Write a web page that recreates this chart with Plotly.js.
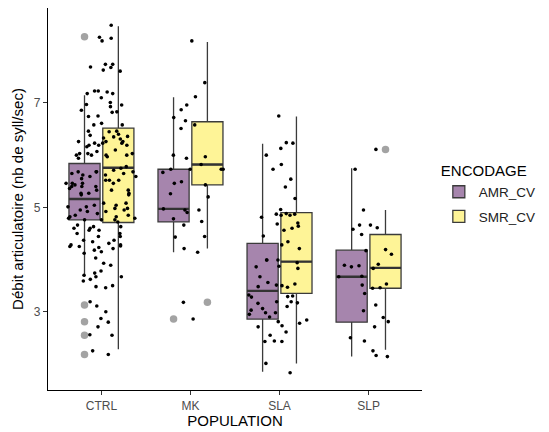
<!DOCTYPE html>
<html>
<head>
<meta charset="utf-8">
<script src="https://cdn.plot.ly/plotly-3.0.1.min.js"></script>
<style>html,body{margin:0;padding:0;background:#fff;}#chart{width:549px;height:432px;}</style>
</head>
<body>
<div id="chart"></div>
<script>
const categories = ['CTRL', 'MK', 'SLA', 'SLP'];

// Box statistics (per category)
const amrQ1 = [4.76, 4.72, 2.86, 2.80];
const amrMedian = [5.16, 4.97, 3.40, 3.67];
const amrQ3 = [5.84, 5.73, 4.31, 4.18];
const amrLower = [3.67, 4.14, 1.85, 2.14];
const amrUpper = [7.15, 7.11, 6.22, 5.75];

const smrQ1 = [4.71, 5.43, 3.35, 3.45];
const smrMedian = [5.76, 5.82, 3.96, 3.84];
const smrQ3 = [6.52, 6.64, 4.90, 4.48];
const smrLower = [2.28, 4.21, 2.01, 2.27];
const smrUpper = [8.47, 8.17, 6.74, 4.95];

// Outliers (grey)
const amrOutX = ['CTRL', 'CTRL', 'CTRL', 'CTRL', 'CTRL', 'MK'];
const amrOutY = [8.27, 3.13, 2.81, 2.55, 2.18, 2.86];
const smrOutX = ['MK', 'SLP'];
const smrOutY = [3.18, 6.11];

// Jittered observations per population
const ctrlPoints = [8.49, 8.26, 8.24, 8.19, 7.74, 7.74, 7.69, 7.68, 7.63, 7.61, 7.23, 7.23, 7.21, 7.18, 7.18, 7.10,
  7.01, 6.97, 6.96, 6.93, 6.86, 6.83, 6.82, 6.75, 6.74, 6.61, 6.58, 6.58, 6.46, 6.46, 6.45, 6.40, 6.38, 6.36, 6.35,
  6.33, 6.31,
  6.00, 6.03, 6.00, 6.00, 6.16, 6.26, 6.23, 6.26, 6.19, 6.19, 6.23, 6.19, 6.26, 6.23, 6.10, 6.07, 6.03, 6.03, 5.97,
  6.00, 5.94,
  5.78, 5.68, 5.71, 5.65, 5.59, 5.52, 5.62, 5.46, 5.75, 5.52, 5.40, 5.43, 5.33, 5.27, 5.33, 5.68, 5.40, 5.46, 5.24,
  5.65, 5.59, 5.68, 5.55, 5.62, 5.68, 5.46, 5.40, 5.33, 5.27, 5.24, 5.27, 5.36, 5.46, 5.52,
  5.08, 4.98, 4.92, 5.04, 4.95, 4.98, 4.88, 4.82, 4.76, 4.79, 4.76, 4.85, 5.01, 5.08, 5.01, 4.95, 5.04, 4.92, 4.82,
  4.76, 4.85, 4.79, 4.72,
  4.63, 4.56, 4.66, 4.50, 4.56, 4.44, 4.60, 4.63, 4.50, 4.37, 4.60, 4.44, 4.37, 4.34, 4.31, 4.25, 4.26, 4.23, 4.25,
  4.28, 4.28, 4.21, 4.15, 4.03, 4.18, 4.12, 3.89, 3.93, 3.70, 3.67, 3.67, 3.74, 3.78, 3.46, 3.50, 3.48, 3.59, 3.62,
  3.11, 3.19, 3.00, 2.87, 2.71, 2.55, 2.56, 2.80, 2.18, 2.25];
const mkPoints = [8.19, 7.39, 7.12, 6.96, 6.87, 6.72, 6.66, 6.58, 6.51, 5.94, 5.97, 5.82, 5.73, 5.73, 5.73, 5.73,
  6.00, 5.67, 5.49, 5.46, 5.43, 5.26, 5.20, 4.97, 4.95, 4.90, 4.95, 4.78, 4.66, 4.73, 4.44, 4.43, 4.21, 4.14, 3.18, 2.86];
const slaPoints = [6.75, 6.24, 6.23, 6.13, 6.00, 5.82, 5.73, 5.54, 5.39, 5.17, 4.85, 4.70, 4.88, 4.81, 4.60, 4.96,
  4.87, 4.87, 4.85, 4.64, 4.56, 4.68, 4.45, 4.28, 4.34, 4.21, 3.94, 3.87, 3.99, 3.86, 3.99, 3.99, 3.83, 3.56, 3.51,
  3.67, 3.50, 3.53, 3.48, 3.47, 3.16, 3.10, 3.03, 2.98, 2.90, 2.78, 3.32, 3.30, 3.19, 3.19, 3.29, 3.28, 3.17, 3.06,
  2.98, 2.95, 2.84, 2.81, 2.71, 2.73, 2.61, 2.55, 2.43, 2.43, 2.44, 2.01, 1.83];
const slpPoints = [6.11, 5.73, 4.61, 4.95, 4.66, 4.58, 4.66, 4.48, 4.19, 4.10, 4.17, 3.89, 3.88, 3.86, 3.91, 3.83,
  3.68, 3.67, 3.53, 3.51, 3.46, 3.45, 3.13, 3.02, 3.35, 2.89, 2.81, 2.71, 2.50, 2.44, 2.25, 2.14, 2.16];

const amrFill = 'rgba(68,1,84,0.48)';
const smrFill = 'rgba(253,231,37,0.48)';
const boxLine = '#3b3b3b';
const font = 'Liberation Sans, Arial, sans-serif';

const pointX = [];
const pointY = [];
[[ 'CTRL', ctrlPoints ], [ 'MK', mkPoints ], [ 'SLA', slaPoints ], [ 'SLP', slpPoints ]].forEach(([c, arr]) => {
  arr.forEach(v => { pointX.push(c); pointY.push(v); });
});

const hidden = { fillcolor: 'rgba(0,0,0,0)', line: { color: 'rgba(0,0,0,0)', width: 0 }, whiskerwidth: 0 };

function medianBar(name, med, group) {
  // zero-height box drawn at the median to give the thicker ggplot median line
  return {
    type: 'box', name: name, x: categories,
    q1: med, median: med, q3: med, lowerfence: med, upperfence: med,
    boxpoints: false, fillcolor: 'rgba(0,0,0,0)', line: { color: '#333333', width: 2.4 }, whiskerwidth: 0,
    alignmentgroup: 'boxes', offsetgroup: group, showlegend: false, hoverinfo: 'skip'
  };
}

const traces = [
  {
    type: 'box', name: 'AMR_CV', x: categories,
    q1: amrQ1, median: amrMedian, q3: amrQ3, lowerfence: amrLower, upperfence: amrUpper,
    boxpoints: false, fillcolor: amrFill, line: { color: boxLine, width: 1.3 }, whiskerwidth: 0,
    alignmentgroup: 'boxes', offsetgroup: 'AMR', legendgroup: 'AMR', hoverinfo: 'skip'
  },
  {
    type: 'box', name: 'SMR_CV', x: categories,
    q1: smrQ1, median: smrMedian, q3: smrQ3, lowerfence: smrLower, upperfence: smrUpper,
    boxpoints: false, fillcolor: smrFill, line: { color: boxLine, width: 1.3 }, whiskerwidth: 0,
    alignmentgroup: 'boxes', offsetgroup: 'SMR', legendgroup: 'SMR', hoverinfo: 'skip'
  },
  medianBar('AMR_CV', amrMedian, 'AMR'),
  medianBar('SMR_CV', smrMedian, 'SMR'),
  Object.assign({
    type: 'box', name: 'AMR_CV', x: amrOutX, y: amrOutY, boxpoints: 'all', jitter: 0, pointpos: 0,
    marker: { color: '#a3a3a3', size: 7.5 }, alignmentgroup: 'boxes', offsetgroup: 'AMR',
    showlegend: false, hoverinfo: 'skip'
  }, hidden),
  Object.assign({
    type: 'box', name: 'SMR_CV', x: smrOutX, y: smrOutY, boxpoints: 'all', jitter: 0, pointpos: 0,
    marker: { color: '#a3a3a3', size: 7.5 }, alignmentgroup: 'boxes', offsetgroup: 'SMR',
    showlegend: false, hoverinfo: 'skip'
  }, hidden),
  Object.assign({
    type: 'box', name: 'points', x: pointX, y: pointY, boxpoints: 'all', jitter: 1, pointpos: 0, width: 0.8,
    marker: { color: '#000000', size: 3.6 }, alignmentgroup: 'pts', offsetgroup: 'pts',
    showlegend: false, hoverinfo: 'skip'
  }, hidden)
];

const layout = {
  width: 549, height: 432,
  margin: { l: 48, r: 123, t: 8, b: 42 },
  paper_bgcolor: '#ffffff', plot_bgcolor: '#ffffff',
  font: { family: font, color: '#000' },
  boxmode: 'group', boxgap: 0.24, boxgroupgap: 0.08,
  showlegend: true,
  legend: {
    x: 1.045, xanchor: 'left', y: 0.61, yanchor: 'top',
    title: { text: 'ENCODAGE', font: { size: 15, family: font, color: '#000' } },
    font: { size: 13.5, family: font, color: '#222' },
    tracegroupgap: 4, itemwidth: 30
  },
  xaxis: {
    type: 'category', categoryorder: 'array', categoryarray: categories,
    range: [-0.6, 3.6], showgrid: false, zeroline: false,
    showline: true, linecolor: '#000', linewidth: 1.1,
    ticks: 'outside', ticklen: 4, tickcolor: '#333', tickwidth: 1,
    tickfont: { size: 12, color: '#4d4d4d', family: font },
    title: { text: 'POPULATION', font: { size: 15, color: '#000', family: font }, standoff: 3 }
  },
  yaxis: {
    range: [1.50, 8.82], showgrid: false, zeroline: false,
    showline: true, linecolor: '#000', linewidth: 1.1,
    tickvals: [3, 5, 7], ticktext: ['3', '5', '7'],
    ticks: 'outside', ticklen: 4, tickcolor: '#333', tickwidth: 1,
    tickfont: { size: 12, color: '#4d4d4d', family: font },
    title: { text: 'Débit articulatoire (nb de syll/sec)', font: { size: 15, color: '#000', family: font }, standoff: 6 }
  }
};

Plotly.newPlot('chart', traces, layout, { displayModeBar: false, staticPlot: true });
</script>
</body>
</html>
